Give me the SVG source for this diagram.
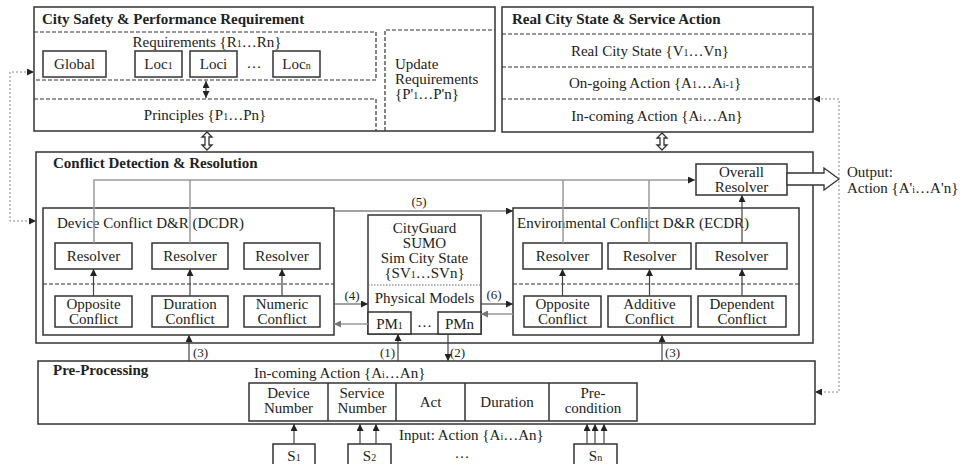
<svg xmlns="http://www.w3.org/2000/svg" width="960" height="464" viewBox="0 0 960 464">
<defs>
<marker id="ah" viewBox="0 0 10 10" refX="10" refY="5" markerWidth="7" markerHeight="7" markerUnits="userSpaceOnUse" orient="auto-start-reverse"><path d="M0,0 L10,5 L0,10 z" fill="#222"/></marker>
<marker id="ahg" viewBox="0 0 10 10" refX="10" refY="5" markerWidth="7" markerHeight="7" markerUnits="userSpaceOnUse" orient="auto-start-reverse"><path d="M0,0 L10,5 L0,10 z" fill="#777"/></marker>
</defs>
<style>
text{font-family:"Liberation Serif","Times New Roman",serif;font-size:15px;fill:#222}
.b{font-weight:bold}
.s{font-size:10px}
.sm{font-size:13px}
.m{text-anchor:middle}
.box{fill:#fff;stroke:#333;stroke-width:1.5}
.nb{fill:none;stroke:#333;stroke-width:1.5}
.dash{fill:none;stroke:#333;stroke-width:1.2;stroke-dasharray:4,2}
.dt{fill:none;stroke:#666;stroke-width:1;stroke-dasharray:1.5,1.5}
.ln{fill:none;stroke:#444;stroke-width:1.2}
.gl{fill:none;stroke:#999;stroke-width:1.5}
.dot{fill:none;stroke:#888;stroke-width:1;stroke-dasharray:2,2}
.hol{fill:#fff;stroke:#333;stroke-width:1.3}
</style>
<rect width="960" height="464" fill="#fff"/>

<g id="requirements">
<rect class="nb" x="34" y="7" width="461" height="124"/>
<text class="b" x="42" y="24">City Safety &amp; Performance Requirement</text>
<path class="dash" d="M34,32 H376 V80 H34"/>
<path class="dash" d="M34,99 H376 V131"/>
<path class="dash" d="M385,131 V30 H495"/>
<text class="m" x="207" y="47">Requirements {R<tspan class="s">1</tspan>…Rn}</text>
<rect class="box" x="43" y="51" width="63" height="26"/>
<text class="m" x="74.5" y="69">Global</text>
<rect class="box" x="135" y="51" width="47" height="26"/>
<text class="m" x="158.5" y="69">Loc<tspan class="s">1</tspan></text>
<rect class="box" x="190" y="51" width="47" height="26"/>
<text class="m" x="213.5" y="69">Loci</text>
<text class="m" x="254" y="68">…</text>
<rect class="box" x="273" y="51" width="47" height="26"/>
<text class="m" x="296.5" y="69">Loc<tspan class="s">n</tspan></text>
<text class="m" x="205" y="120">Principles {P<tspan class="s">1</tspan>…Pn}</text>
<text x="395" y="69">Update</text>
<text x="395" y="84">Requirements</text>
<text x="395" y="99">{P'<tspan class="s">1</tspan>…P'n}</text>
</g>

<g id="state">
<rect class="nb" x="502" y="7" width="311" height="125"/>
<text class="b" x="512" y="24">Real City State &amp; Service Action</text>
<path class="dash" d="M502,34 H813 M502,67 H813 M502,99 H813"/>
<text class="m" x="650" y="56">Real City State {V<tspan class="s">1</tspan>…Vn}</text>
<text class="m" x="655" y="88">On-going Action {A<tspan class="s">1</tspan>…A<tspan class="s">i-1</tspan>}</text>
<text class="m" x="657" y="121">In-coming Action {A<tspan class="s">i</tspan>…An}</text>
</g>

<g id="cdr">
<rect class="nb" x="36" y="152" width="777" height="191"/>
<text class="b" x="53" y="168">Conflict Detection &amp; Resolution</text>
</g>

<g id="overall">
<rect class="box" x="696" y="164" width="91" height="31"/>
<text class="m" x="741.5" y="177">Overall</text>
<text class="m" x="741.5" y="192">Resolver</text>
</g>

<g id="dcdr">
<rect class="nb" x="43" y="208" width="291" height="127"/>
<text x="57" y="228">Device Conflict D&amp;R (DCDR)</text>
<path class="dash" d="M43,284 H334"/>
<rect class="box" x="55" y="243" width="77" height="26"/>
<text class="m" x="93.5" y="261">Resolver</text>
<rect class="box" x="152" y="243" width="76" height="26"/>
<text class="m" x="190" y="261">Resolver</text>
<rect class="box" x="244" y="243" width="76" height="26"/>
<text class="m" x="282" y="261">Resolver</text>
<rect class="box" x="55" y="296" width="77" height="31"/>
<text class="m" x="93.5" y="309">Opposite</text>
<text class="m" x="93.5" y="324">Conflict</text>
<rect class="box" x="152" y="296" width="76" height="31"/>
<text class="m" x="190" y="309">Duration</text>
<text class="m" x="190" y="324">Conflict</text>
<rect class="box" x="244" y="296" width="76" height="31"/>
<text class="m" x="282" y="309">Numeric</text>
<text class="m" x="282" y="324">Conflict</text>
</g>

<g id="ecdr">
<rect class="nb" x="513" y="208" width="286" height="127"/>
<text x="517" y="228">Environmental Conflict D&amp;R (ECDR)</text>
<path class="dash" d="M513,284 H799"/>
<rect class="box" x="523" y="243" width="79" height="26"/>
<text class="m" x="562.5" y="261">Resolver</text>
<rect class="box" x="608" y="243" width="83" height="26"/>
<text class="m" x="649.5" y="261">Resolver</text>
<rect class="box" x="696" y="243" width="91" height="26"/>
<text class="m" x="741.5" y="261">Resolver</text>
<rect class="box" x="524" y="296" width="77" height="31"/>
<text class="m" x="562.5" y="309">Opposite</text>
<text class="m" x="562.5" y="324">Conflict</text>
<rect class="box" x="608" y="296" width="83" height="31"/>
<text class="m" x="649.5" y="309">Additive</text>
<text class="m" x="649.5" y="324">Conflict</text>
<rect class="box" x="698" y="296" width="88" height="31"/>
<text class="m" x="742" y="309">Dependent</text>
<text class="m" x="742" y="324">Conflict</text>
</g>

<g id="cityguard">
<rect class="box" x="368" y="215" width="113" height="119"/>
<text class="m" x="424.5" y="233">CityGuard</text>
<text class="m" x="424.5" y="248">SUMO</text>
<text class="m" x="424.5" y="263">Sim City State</text>
<text class="m" x="424.5" y="278">{SV<tspan class="s">1</tspan>…SVn}</text>
<path class="dt" d="M368,285 H481"/>
<text class="m" x="424.5" y="303">Physical Models</text>
<rect class="box" x="368" y="312" width="43" height="22"/>
<text class="m" x="389.5" y="329">PM<tspan class="s">1</tspan></text>
<text class="m" x="424.5" y="327">…</text>
<rect class="box" x="438" y="312" width="43" height="22"/>
<text class="m" x="459.5" y="329">PMn</text>
</g>

<g id="preprocessing">
<rect class="nb" x="38" y="361" width="777" height="63"/>
<text class="b" x="53" y="375">Pre-Processing</text>
<text x="254" y="378">In-coming Action {A<tspan class="s">i</tspan>…An}</text>
<rect class="nb" x="249" y="383" width="388" height="38"/>
<path class="nb" d="M328,383 V421 M396,383 V421 M465,383 V421 M549,383 V421"/>
<text class="m" x="288.5" y="398">Device</text>
<text class="m" x="288.5" y="413">Number</text>
<text class="m" x="362" y="398">Service</text>
<text class="m" x="362" y="413">Number</text>
<text class="m" x="430.5" y="407">Act</text>
<text class="m" x="507" y="407">Duration</text>
<text class="m" x="593" y="398">Pre-</text>
<text class="m" x="593" y="413">condition</text>
<text x="399" y="440">Input: Action {A<tspan class="s">i</tspan>…An}</text>
</g>

<g id="sources">
<rect class="box" x="273" y="444" width="42" height="26"/>
<text class="m" x="294" y="461">S<tspan class="s">1</tspan></text>
<rect class="box" x="348" y="444" width="43" height="26"/>
<text class="m" x="369.5" y="461">S<tspan class="s">2</tspan></text>
<text class="m" x="462" y="458">…</text>
<rect class="box" x="574" y="444" width="43" height="26"/>
<text class="m" x="595.5" y="461">S<tspan class="s">n</tspan></text>
</g>

<g id="output">
<text x="847" y="177">Output:</text>
<text x="847" y="193">Action {A'<tspan class="s">i</tspan>…A'n}</text>
</g>

<g id="connectors">
<path class="hol" d="M207,132 L202,137 L205,137 L205,145 L202,145 L207,150 L212,145 L209,145 L209,137 L212,137 Z"/>
<path class="hol" d="M662,133 L657,138 L660,138 L660,145 L657,145 L662,150 L667,145 L664,145 L664,138 L667,138 Z"/>
<path class="hol" d="M787,173 H824 V168 L839,179 L824,190 V185 H787 Z"/>
<path class="ln" d="M206,81 V98" marker-start="url(#ah)" marker-end="url(#ah)"/>
<path class="dot" d="M34,72 H10 V221 H36" marker-start="url(#ah)" marker-end="url(#ah)"/>
<path class="dot" d="M813,99 H839 V392 H815" marker-start="url(#ah)" marker-end="url(#ah)"/>
<path class="gl" d="M94,243 V180 H695" marker-end="url(#ah)"/>
<path class="gl" d="M190,243 V180 M563,243 V180 M649,243 V180"/>
<path class="ln" d="M742,243 V195" marker-end="url(#ah)"/>
<path class="ln" d="M93.5,296 V269" marker-end="url(#ah)"/>
<path class="ln" d="M190,296 V269" marker-end="url(#ah)"/>
<path class="ln" d="M282,296 V269" marker-end="url(#ah)"/>
<path class="ln" d="M562.5,296 V269" marker-end="url(#ah)"/>
<path class="ln" d="M649.5,296 V269" marker-end="url(#ah)"/>
<path class="ln" d="M742,296 V269" marker-end="url(#ah)"/>
<path class="ln" d="M334,211 H513" marker-end="url(#ah)"/>
<text class="sm m" x="419" y="206">(5)</text>
<path class="ln" d="M334,304 H368" marker-end="url(#ah)"/>
<text class="sm m" x="352" y="300">(4)</text>
<path class="gl" d="M368,324 H334" marker-end="url(#ahg)"/>
<path class="ln" d="M481,304 H513" marker-end="url(#ah)"/>
<text class="sm m" x="494" y="299">(6)</text>
<path class="gl" d="M513,314 H481" marker-end="url(#ahg)"/>
<path class="ln" d="M398,361 V334" marker-end="url(#ah)"/>
<text class="sm" x="380" y="357">(1)</text>
<path class="ln" d="M448,334 V361" marker-end="url(#ah)"/>
<text class="sm" x="450" y="357">(2)</text>
<path class="ln" d="M189,361 V335" marker-end="url(#ah)"/>
<text class="sm" x="193" y="357">(3)</text>
<path class="ln" d="M662,361 V335" marker-end="url(#ah)"/>
<text class="sm" x="665" y="357">(3)</text>
<path class="ln" d="M294,444 V424" marker-end="url(#ah)"/>
<path class="ln" d="M360,444 V424" marker-end="url(#ah)"/>
<path class="ln" d="M376,444 V424" marker-end="url(#ah)"/>
<path class="ln" d="M587,444 V424" marker-end="url(#ah)"/>
<path class="ln" d="M595,444 V424" marker-end="url(#ah)"/>
<path class="ln" d="M604,444 V424" marker-end="url(#ah)"/>
</g>
</svg>
